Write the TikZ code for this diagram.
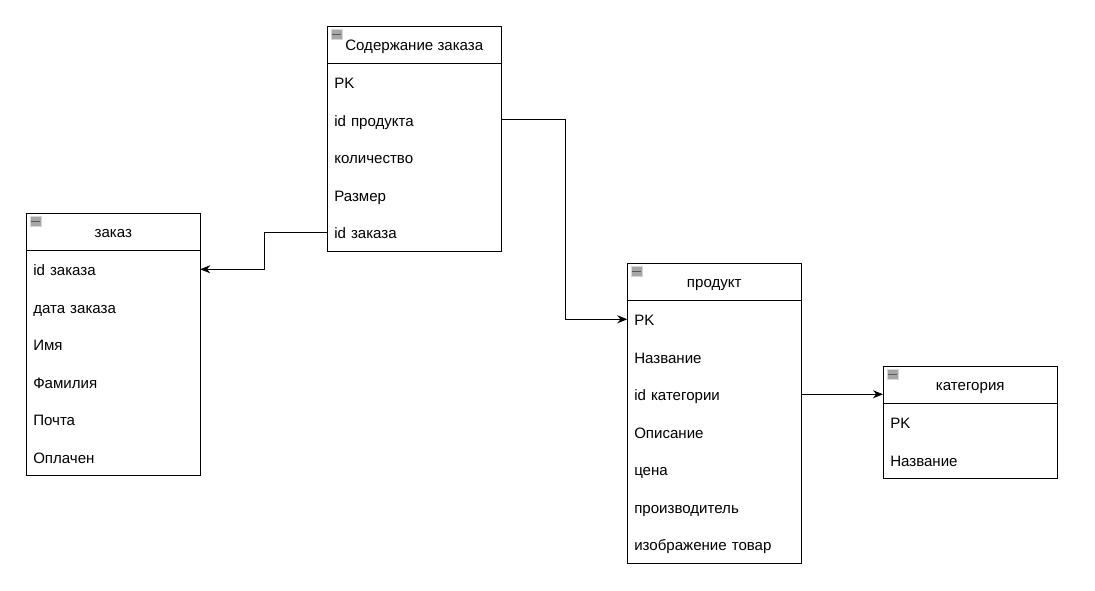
\documentclass[tikz,border=0pt]{standalone}
\usepackage{fontspec}
\setmainfont{Liberation Sans}
\usepackage{tikz}
\usetikzlibrary{arrows.meta, positioning}
\definecolor{iconfill}{HTML}{A6A6A6}
\definecolor{iconedge}{HTML}{D6D6D6}

\begin{document}
\begin{tikzpicture}[
    x=0.75pt, y=-0.75pt,
    hdr/.style={draw, anchor=north west, minimum width=130.5pt,
                minimum height=27.75pt, text height=8.6pt, text depth=0.2pt,
                font=\fontsize{11.3pt}{13pt}\selectfont},
    field/.style={anchor=north, text width=120pt, align=left, inner xsep=5.25pt,
                  inner ysep=0pt, outer sep=0pt, minimum height=28.125pt,
                  text height=10pt, text depth=0.1pt,
                  font=\fontsize{11.3pt}{13pt}\selectfont},
    icon/.style={draw=iconedge, fill=iconfill, minimum width=8pt,
                 minimum height=7pt, inner sep=0pt, anchor=north west},
    arrow/.style={-{Stealth[length=7.5pt, width=6pt]}, semithick},
    node distance=0pt,
]
    \useasboundingbox (0,0) rectangle (1095,591);

    % Содержание заказа
    \node[hdr] (sz) at (327,26) {Содержание заказа};
    \node[field, below=of sz]    (sz-pk)  {PK};
    \node[field, below=of sz-pk] (sz-idp) {id продукта};
    \node[field, below=of sz-idp] (sz-kol) {количество};
    \node[field, below=of sz-kol] (sz-raz) {Размер};
    \node[field, below=of sz-raz] (sz-idz) {id заказа};
    \draw (sz.south west) rectangle (sz-idz.south east);

    % заказ
    \node[hdr] (z) at (26,213) {заказ};
    \node[field, below=of z]      (z-idz) {id заказа};
    \node[field, below=of z-idz]  (z-dat) {дата заказа};
    \node[field, below=of z-dat]  (z-imy) {Имя};
    \node[field, below=of z-imy]  (z-fam) {Фамилия};
    \node[field, below=of z-fam]  (z-poc) {Почта};
    \node[field, below=of z-poc]  (z-opl) {Оплачен};
    \draw (z.south west) rectangle (z-opl.south east);

    % продукт
    \node[hdr] (p) at (627,263) {продукт};
    \node[field, below=of p]      (p-pk)  {PK};
    \node[field, below=of p-pk]   (p-naz) {Название};
    \node[field, below=of p-naz]  (p-idk) {id категории};
    \node[field, below=of p-idk]  (p-opi) {Описание};
    \node[field, below=of p-opi]  (p-cen) {цена};
    \node[field, below=of p-cen]  (p-pro) {производитель};
    \node[field, below=of p-pro]  (p-izo) {изображение товар};
    \draw (p.south west) rectangle (p-izo.south east);

    % категория
    \node[hdr] (k) at (883,366) {категория};
    \node[field, below=of k]      (k-pk)  {PK};
    \node[field, below=of k-pk]   (k-naz) {Название};
    \draw (k.south west) rectangle (k-naz.south east);

    % collapse icons
    \foreach \t in {sz, z, p, k} {
        \node[icon] (\t-ico) at ([xshift=3pt, yshift=-2.5pt]\t.north west) {};
        \draw[black!65, line width=0.9pt] ([xshift=0.8pt]\t-ico.west) -- ([xshift=-0.8pt]\t-ico.east);
    }

    \draw[arrow] (sz-idz.west) -- ++(-63,0) |- (z-idz.east);
    \draw[arrow] (sz-idp.east) -- ++(64,0) |- (p-pk.west);
    \draw[arrow] (p-idk.east) -- (k.south west |- p-idk.east);
\end{tikzpicture}
\end{document}
